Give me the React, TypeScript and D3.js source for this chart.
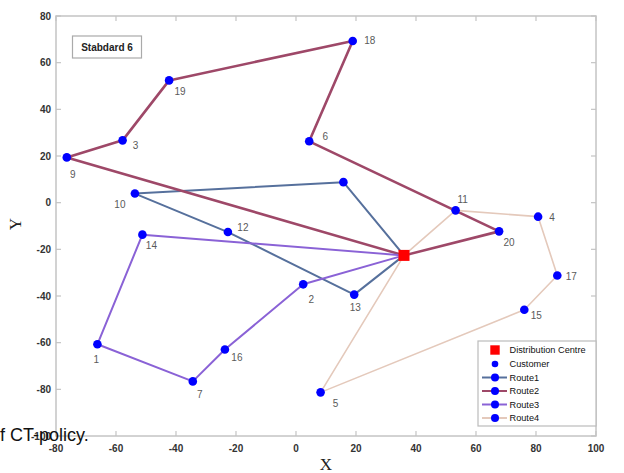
import React from "react";
import * as d3 from "d3";

// ---- data ----
const customerIds = [1, 2, 3, 4, 5, 6, 7, 8, 9, 10, 11, 12, 13, 14, 15, 16, 17, 18, 19, 20];
const customerX = [-66.2, 2.4, -57.8, 80.7, 8.2, 4.4, -34.4, 15.8, -76.4, -53.7, 53.2, -22.7, 19.4, -51.2, 76.1, -23.7, 87.1, 18.9, -42.3, 67.7];
const customerY = [-60.7, -35, 26.7, -6, -81.3, 26.3, -76.6, 8.8, 19.4, 3.9, -3.3, -12.6, -39.4, -13.7, -45.9, -62.9, -31.2, 69.3, 52.4, -12.3];
const depot = { x: 36, y: -22.6 };
const routeNames = ["Route1", "Route2", "Route3", "Route4"];
const routeStops = [
  [0, 8, 10, 12, 13, 0],
  [0, 9, 3, 19, 18, 6, 20, 0],
  [0, 14, 1, 7, 16, 2, 0],
  [0, 11, 4, 17, 15, 5, 0],
];
const xTicks = [-80, -60, -40, -20, 0, 20, 40, 60, 80, 100];
const yTicks = [-100, -80, -60, -40, -20, 0, 20, 40, 60, 80];
const showLabel = [true, true, true, true, true, true, true, false, true, true, true, true, true, true, true, true, true, true, true, true];

// ---- style ----
const routeColors = ["#56709c", "#9e4868", "#8a62d6", "#e4c9bb"];
const routeWidths = [2, 2.6, 2, 1.6];
const labelOffsets: Record<number, [number, number]> = {
  1: [-1, 15], 2: [8, 15], 3: [13, 5], 4: [14, 1], 5: [15, 11], 6: [16, -5],
  7: [7, 13], 8: [0, 0], 9: [6, 17], 10: [-15, 11], 11: [7, -11], 12: [15, -5],
  13: [1, 13], 14: [9, 11], 15: [12, 6], 16: [12, 8], 17: [14, 1], 18: [17, 0],
  19: [11, 11], 20: [10, 11],
};

const W = 624, H = 473;

export default function App() {
  const x = d3.scaleLinear().domain([-80, 100]).range([56, 596]);
  const y = d3.scaleLinear().domain([-100, 80]).range([436, 16]);
  const pos = (id: number): [number, number] =>
    id === 0 ? [x(depot.x), y(depot.y)] : [x(customerX[id - 1]), y(customerY[id - 1])];
  const line = d3.line<number>().x((d) => pos(d)[0]).y((d) => pos(d)[1]);

  const axisColor = "#c4c4c4";
  const [x0, x1] = x.range();
  const [y0, y1] = [y(-100), y(80)];
  const tickLen = 5;
  const font = "Liberation Sans, Arial, sans-serif";

  const legendX = 478, legendY = 341, legendW = 118, legendH = 85;
  const legendRows = [350, 364, 377.5, 391, 404.5, 418];
  const legendText = ["Distribution Centre", "Customer", ...routeNames];

  return (
    <svg width={W} height={H} style={{ position: "absolute", left: 0, top: 0, background: "#fff" }} fontFamily={font}>
      <rect x={0} y={0} width={W} height={H} fill="#fff" />
      {/* frame */}
      <rect x={x0} y={y1} width={x1 - x0} height={y0 - y1} fill="none" stroke={axisColor} strokeWidth={1.5} />
      {xTicks.map((t) => (
        <g key={"xt" + t}>
          <line x1={x(t)} x2={x(t)} y1={y0} y2={y0 - tickLen} stroke={axisColor} strokeWidth={1.2} />
          <line x1={x(t)} x2={x(t)} y1={y1} y2={y1 + tickLen} stroke={axisColor} strokeWidth={1.2} />
          <text x={x(t)} y={452} textAnchor="middle" fontSize={10} fill="#333" fontWeight={600}>{t}</text>
        </g>
      ))}
      {yTicks.map((t) => (
        <g key={"yt" + t}>
          <line x1={x0} x2={x0 + tickLen} y1={y(t)} y2={y(t)} stroke={axisColor} strokeWidth={1.2} />
          <line x1={x1} x2={x1 - tickLen} y1={y(t)} y2={y(t)} stroke={axisColor} strokeWidth={1.2} />
          <text x={51} y={y(t) + 3.5} textAnchor="end" fontSize={10} fill="#333" fontWeight={600}>{t}</text>
        </g>
      ))}
      {/* axis titles */}
      <text x={326} y={470} textAnchor="middle" fontSize={17} fontFamily="Liberation Serif, Times New Roman, serif" fill="#222">X</text>
      <text transform="translate(21,224) rotate(-90)" textAnchor="middle" fontSize={17} fontFamily="Liberation Serif, Times New Roman, serif" fill="#222">Y</text>

      {/* routes */}
      {routeStops.map((r, i) => (
        <path key={"r" + i} d={line(r) || ""} fill="none" stroke={routeColors[i]} strokeWidth={routeWidths[i]} strokeLinejoin="round" />
      ))}

      {/* customers */}
      {customerIds.map((id) => {
        const [px, py] = pos(id);
        return <circle key={"c" + id} cx={px} cy={py} r={4.3} fill="#0000ff" />;
      })}
      {customerIds.filter((id, i) => showLabel[i]).map((id) => {
        const [px, py] = pos(id);
        const [dx, dy] = labelOffsets[id];
        return (
          <text key={"l" + id} x={px + dx} y={py + dy + 3.5} textAnchor="middle" fontSize={10} fill="#5a5a5a">{id}</text>
        );
      })}
      {/* depot */}
      <rect x={pos(0)[0] - 5.5} y={pos(0)[1] - 5.5} width={11} height={11} fill="#ff0000" />

      {/* title box */}
      <rect x={72.5} y={36} width={69} height={22} fill="#fff" stroke="#aaa" strokeWidth={1.2} />
      <text x={107} y={50.5} textAnchor="middle" fontSize={10} fontWeight={700} fill="#222">Stabdard 6</text>

      {/* legend */}
      <rect x={legendX} y={legendY} width={legendW} height={legendH} fill="#fff" stroke="#bbb" strokeWidth={1.2} />
      <rect x={495 - 4.7} y={legendRows[0] - 4.7} width={9.4} height={9.4} fill="#ff0000" />
      <circle cx={495} cy={legendRows[1]} r={3.3} fill="#0000ff" />
      {routeNames.map((n, i) => (
        <g key={"lg" + i}>
          <line x1={482} x2={507} y1={legendRows[i + 2]} y2={legendRows[i + 2]} stroke={routeColors[i]} strokeWidth={2} />
          <circle cx={495} cy={legendRows[i + 2]} r={4} fill="#0000ff" />
        </g>
      ))}
      {legendText.map((t, i) => (
        <text key={"lt" + i} x={509.5} y={legendRows[i] + 3.3} fontSize={9.2} fill="#111">{t}</text>
      ))}

      {/* overlapping caption fragment */}
      <text x={0} y={441} fontSize={18} fill="#111">f CT-policy.</text>
    </svg>
  );
}
